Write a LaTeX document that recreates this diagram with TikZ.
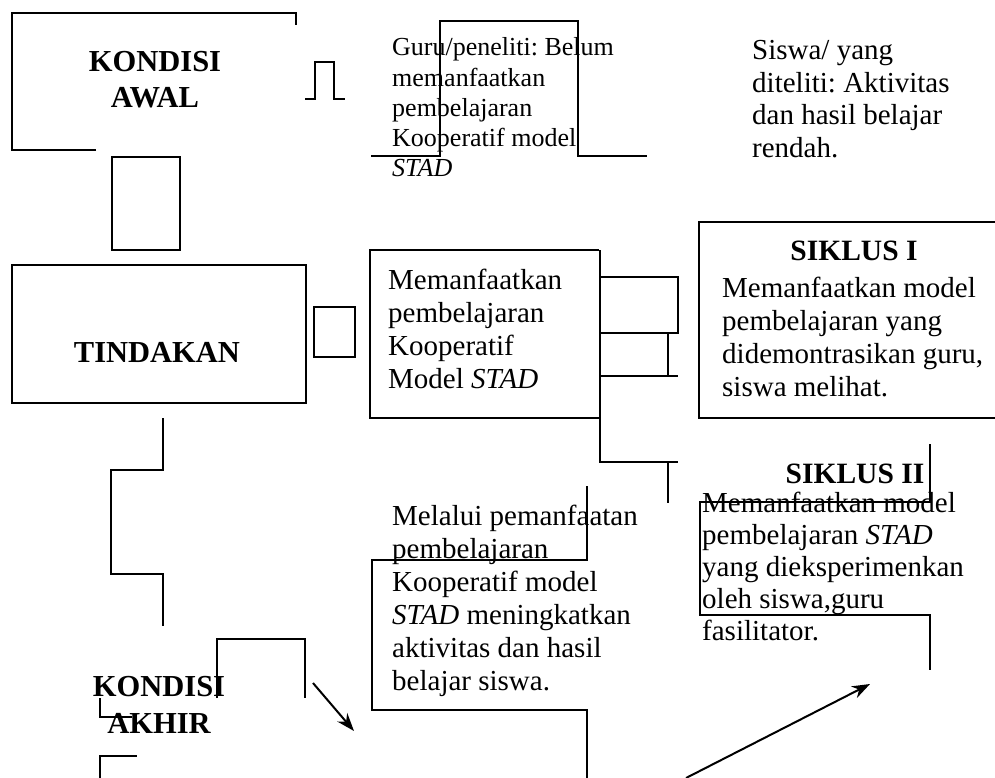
\documentclass[tikz,border=0pt]{standalone}
\usepackage{fontspec}
\setmainfont{Liberation Serif}
\usetikzlibrary{arrows.meta}
\frenchspacing
\tikzset{
  ln/.style={line width=1.6pt, line join=miter},
  body/.style={inner sep=0pt, anchor=base west, align=left, font=\fontsize{29}{33}\selectfont},
  small/.style={inner sep=0pt, anchor=base west, align=left, font=\fontsize{26}{30.3}\selectfont},
  title/.style={inner sep=0pt, anchor=base, align=center, font=\fontsize{30.5}{36.5}\selectfont\bfseries},
  arr/.style={line width=2pt, -{Stealth[length=18pt,width=13pt]}}
}
\begin{document}
\begin{tikzpicture}[x=1pt,y=-1pt]
\useasboundingbox (0,0) rectangle (995,778);
% KONDISI AWAL
\draw[ln] (96,150) -- (12,150) -- (12,13) -- (296,13) -- (296,25);
\node[title] (awal) at (155,108) {KONDISI\\AWAL};
\draw[ln] (305,99) -- (315,99) -- (315,62) -- (334,62) -- (334,99) -- (345,99);
\draw[ln] (112,157) rectangle (180,250);
% Guru
\draw[ln] (371,156) -- (440,156) -- (440,21) -- (578,21) -- (578,156) -- (647,156);
\node[small] (guru) at (392,177) {Guru/peneliti: Belum\\memanfaatkan\\pembelajaran\\Kooperatif model\\\textit{STAD}};
% Siswa
\node[body, font=\fontsize{29}{32.5}\selectfont] (siswa) at (752,157.5) {Siswa/ yang\\diteliti: Aktivitas\\dan hasil belajar\\rendah.};
% TINDAKAN
\draw[ln] (12,265) rectangle (306,403);
\node[title] (tindakan) at (157,362) {TINDAKAN};
\draw[ln] (314,307) rectangle (355,357);
% Memanfaatkan box
\draw[ln] (599,250) -- (370,250) -- (370,418) -- (599,418);
\node[body] (mem) at (388,388) {Memanfaatkan\\pembelajaran\\Kooperatif\\Model \textit{STAD}};
\draw[ln] (600,250) -- (600,462) -- (678,462);
\draw[ln] (600,277) -- (678,277) -- (678,333) -- (600,333);
\draw[ln] (668,333) -- (668,376);
\draw[ln] (600,376) -- (678,376);
\draw[ln] (668,462) -- (668,503);
% SIKLUS I
\draw[ln] (995,222) -- (699,222) -- (699,418) -- (995,418);
\node[title, font=\fontsize{29.5}{33}\selectfont\bfseries] (s1) at (854,260) {SIKLUS I};
\node[body] (s1b) at (722,396) {Memanfaatkan model\\pembelajaran yang\\didemontrasikan guru,\\siswa melihat.};
% SIKLUS II
\draw[ln] (930,444) -- (930,502) -- (700,502) -- (700,615) -- (930,615) -- (930,670);
\node[title, font=\fontsize{29.5}{33}\selectfont\bfseries] (s2) at (855,483) {SIKLUS II};
\node[body, font=\fontsize{29}{32}\selectfont] (s2b) at (702,640) {Memanfaatkan model\\pembelajaran \textit{STAD}\\yang dieksperimenkan\\oleh siswa,guru\\fasilitator.};
% Left connector
\draw[ln] (163,418) -- (163,470) -- (111,470) -- (111,574) -- (163,574) -- (163,626);
% KONDISI AKHIR
\draw[ln] (217,698) -- (217,639) -- (305,639) -- (305,698);
\node[title, font=\fontsize{30.5}{37}\selectfont\bfseries] (akhir) at (159,733) {KONDISI\\AKHIR};
\draw[ln] (100,698) -- (100,717) -- (132,717);
\draw[ln] (100,778) -- (100,756) -- (137,756);
% Melalui box
\draw[ln] (587,486) -- (587,560) -- (372,560) -- (372,710) -- (587,710) -- (587,778);
\node[body] (melalui) at (392,690) {Melalui pemanfaatan\\pembelajaran\\Kooperatif model\\\textit{STAD} meningkatkan\\aktivitas dan hasil\\belajar siswa.};
% Arrows
\coordinate (a1s) at (313,683);
\coordinate (a1e) at (354,731);
\coordinate (a2s) at (686,778);
\coordinate (a2e) at (870,684);
\draw[arr] (a1s) -- (a1e);
\draw[arr] (a2s) -- (a2e);
\end{tikzpicture}
\end{document}
